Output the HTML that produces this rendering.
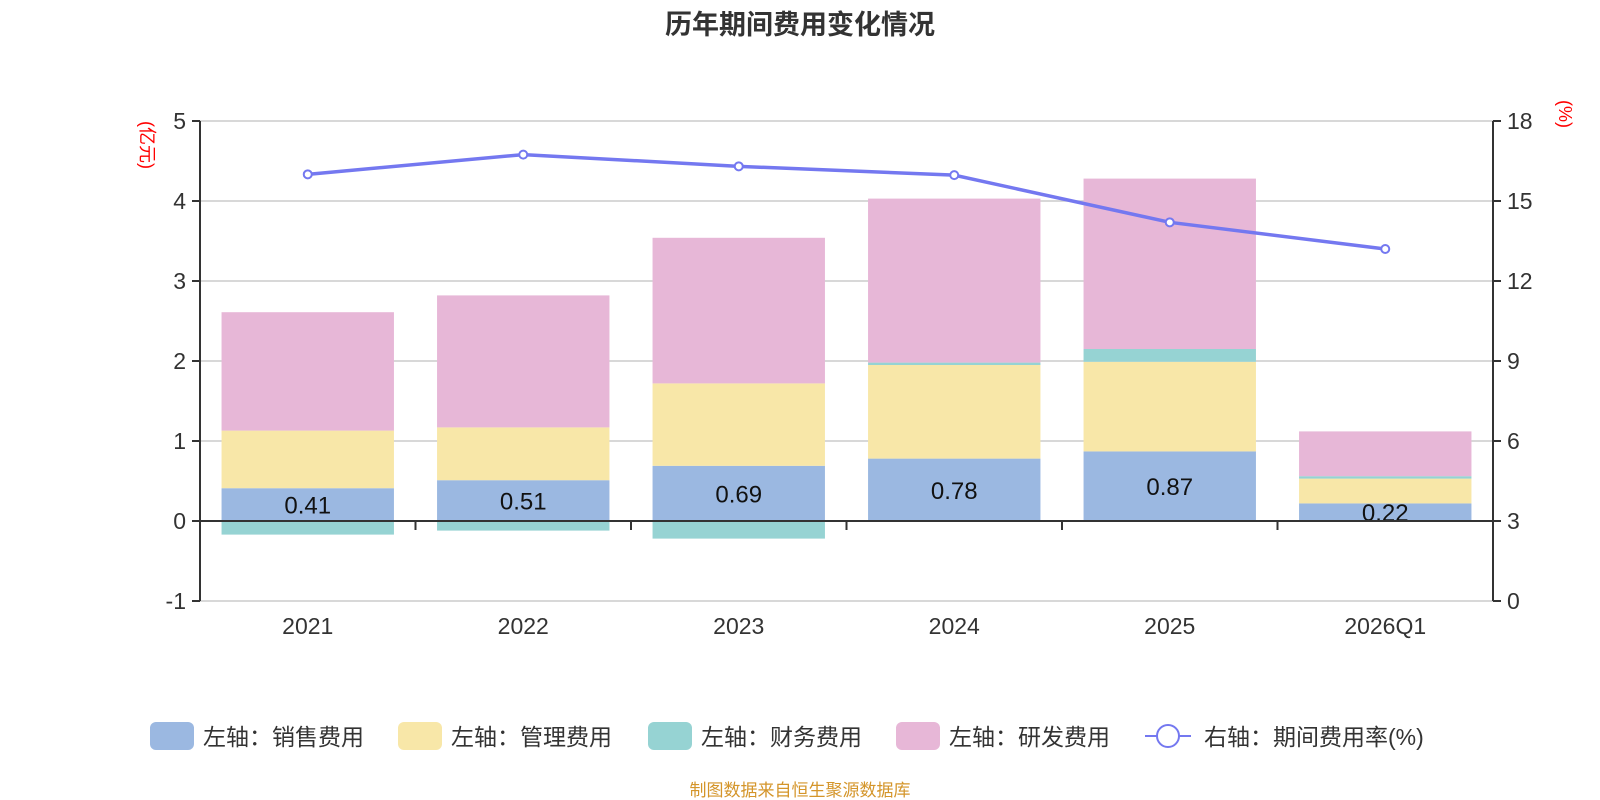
<!DOCTYPE html>
<html><head><meta charset="utf-8"><style>
html,body{margin:0;padding:0;background:#fff;width:1600px;height:800px;overflow:hidden}
svg{display:block;font-family:"Liberation Sans","Noto Sans CJK SC",sans-serif}
</style></head><body>
<svg id="chart" width="1600" height="800">
<text x="800" y="34" text-anchor="middle" font-size="27" font-weight="bold" fill="#333">历年期间费用变化情况</text>
<g id="grid"></g><g id="bars"></g><g id="axes"></g><g id="line"></g><g id="legend"></g>
<text x="800" y="796" text-anchor="middle" font-size="17" fill="#d4952a">制图数据来自恒生聚源数据库</text>
</svg>
<script>
const categories=["2021","2022","2023","2024","2025","2026Q1"];
const sales=[0.41,0.51,0.69,0.78,0.87,0.22];
const admin=[0.72,0.66,1.03,1.17,1.12,0.31];
const finance=[-0.17,-0.12,-0.22,0.03,0.16,0.03];
const rnd=[1.48,1.65,1.82,2.05,2.13,0.56];
const rate=[16.0,16.74,16.3,15.97,14.2,13.2];
const leftTicks=[-1,0,1,2,3,4,5];
const rightTicks=[0,3,6,9,12,15,18];
const NS="http://www.w3.org/2000/svg";
const X0=200,X1=1493,YT=121,YB=601;
const yL=v=>YT+(5-v)/6*(YB-YT);
const yR=v=>YT+(18-v)/18*(YB-YT);
const bw=(X1-X0)/categories.length;
const xc=i=>X0+bw*(i+0.5);
function mk(tag,attrs,parent){const e=document.createElementNS(NS,tag);for(const k in attrs)e.setAttribute(k,attrs[k]);document.getElementById(parent).appendChild(e);return e;}
leftTicks.forEach(t=>{
 if(t!==0){const l=mk('line',{x1:X0,x2:X1,y1:yL(t),y2:yL(t),stroke:'#ccc','stroke-width':1.5},'grid');
 
 }
 const tx=mk('text',{x:X0-14,y:yL(t)+8,'text-anchor':'end','font-size':23,fill:'#333'},'axes');tx.textContent=t;
 
 
 mk('line',{x1:X0-8,x2:X0,y1:yL(t),y2:yL(t),stroke:'#333','stroke-width':2},'axes');
});
rightTicks.forEach(t=>{
 const tx=mk('text',{x:X1+14,y:yR(t)+8,'font-size':23,fill:'#333'},'axes');tx.textContent=t;
 
 
 mk('line',{x1:X1,x2:X1+8,y1:yR(t),y2:yR(t),stroke:'#333','stroke-width':2},'axes');
});
mk('line',{x1:X0,x2:X0,y1:YT,y2:YB,stroke:'#333','stroke-width':2},'axes');
mk('line',{x1:X1,x2:X1,y1:YT,y2:YB,stroke:'#333','stroke-width':2},'axes');
mk('line',{x1:X0,x2:X1,y1:yL(0),y2:yL(0),stroke:'#333','stroke-width':2},'axes');
for(let i=0;i<=categories.length;i++){mk('line',{x1:X0+bw*i,x2:X0+bw*i,y1:yL(0),y2:yL(0)+9,stroke:'#333','stroke-width':2},'axes');}
const ul=mk('text',{transform:`translate(141,145) rotate(90)`,'text-anchor':'middle','font-size':18,fill:'#f00'},'axes');ul.textContent='(亿元)';


const ur=mk('text',{transform:`translate(1559,114) rotate(90)`,'text-anchor':'middle','font-size':18,fill:'#f00'},'axes');ur.textContent='(%)';


const series=[[sales,'#9bb8e1','sales'],[admin,'#f8e7a8','admin'],[finance,'#96d3d3','finance'],[rnd,'#e7b7d7','rnd']];
categories.forEach((c,i)=>{
 const w=bw*0.8,x=xc(i)-w/2;let pos=0,neg=0;
 series.forEach(([arr,col,nm])=>{
  const v=arr[i];let a,b;
  if(v>=0){a=pos;b=pos+v;pos=b;}else{a=neg;b=neg+v;neg=b;}
  const r=mk('rect',{x:x,y:Math.min(yL(a),yL(b)),width:w,height:Math.abs(yL(a)-yL(b)),fill:col},'bars');
  
  
 });
 const lb=mk('text',{x:xc(i),y:yL(sales[i]/2)+9,'text-anchor':'middle','font-size':24,fill:'#111'},'bars');lb.textContent=sales[i].toFixed(2);
 
 
 const cl=mk('text',{x:xc(i),y:634,'text-anchor':'middle','font-size':23,fill:'#333'},'axes');cl.textContent=c;
 
 
});
const pl=mk('polyline',{points:rate.map((v,i)=>xc(i)+','+yR(v)).join(' '),fill:'none',stroke:'#7478f0','stroke-width':3.5},'line');


rate.forEach((v,i)=>{const p=mk('circle',{cx:xc(i),cy:yR(v),r:4,fill:'#fff',stroke:'#7478f0','stroke-width':2},'line');
 
 });
const leg=[['左轴：销售费用','#9bb8e1',150],['左轴：管理费用','#f8e7a8',398],['左轴：财务费用','#96d3d3',648],['左轴：研发费用','#e7b7d7',896]];
leg.forEach(([t,col,x])=>{
 const r=mk('rect',{x:x,y:722,width:44,height:28,rx:6,fill:col},'legend');
 
 
 const tx=mk('text',{x:x+53,y:745,'font-size':23,fill:'#333'},'legend');tx.textContent=t;
 
 
});
mk('line',{x1:1145,x2:1191,y1:736,y2:736,stroke:'#7478f0','stroke-width':2},'legend');
const lc=mk('circle',{cx:1168,cy:736,r:11,fill:'#fff',stroke:'#7478f0','stroke-width':2},'legend');


const lt=mk('text',{x:1204,y:745,'font-size':23,fill:'#333'},'legend');lt.textContent='右轴：期间费用率(%)';


</script>
</body></html>
